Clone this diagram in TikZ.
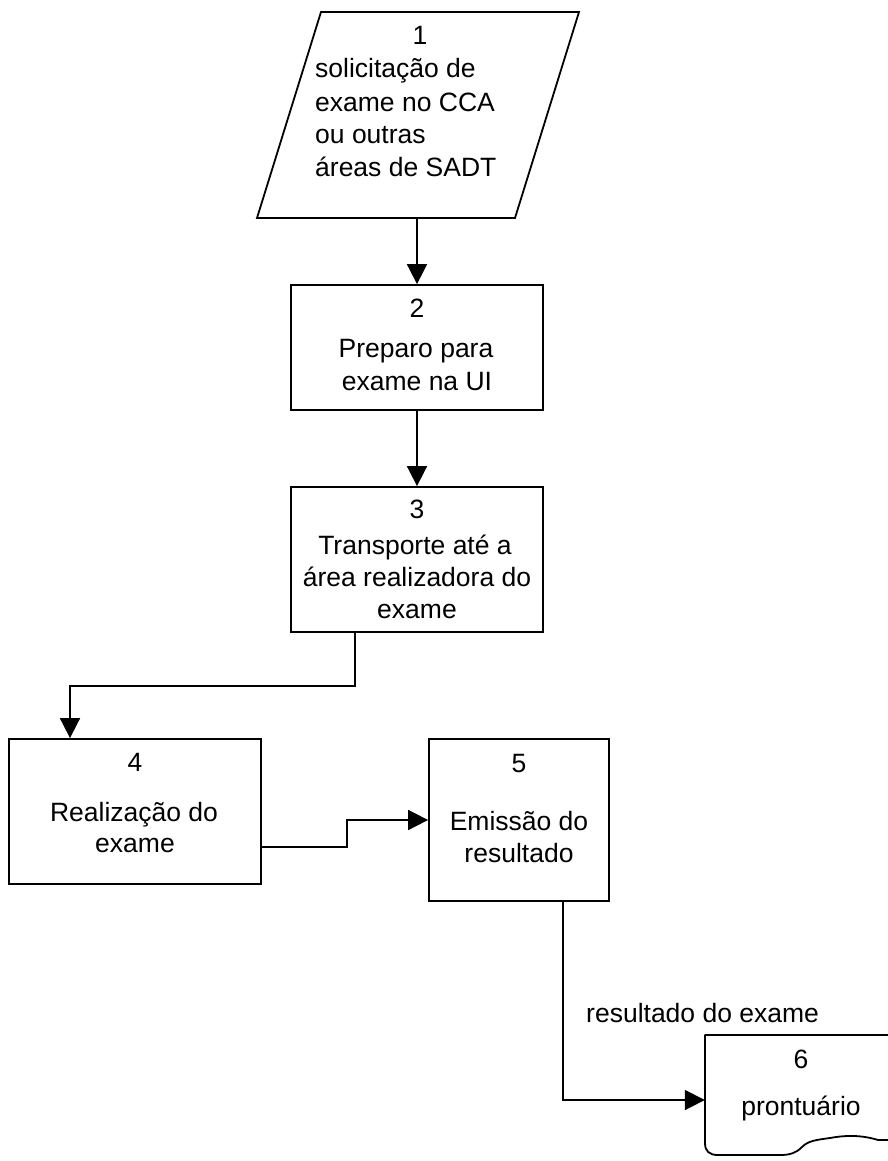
\documentclass[tikz,border=0pt]{standalone}
\usepackage{fontspec}
\setmainfont{Liberation Sans}
\usetikzlibrary{arrows.meta}
\begin{document}
\begin{tikzpicture}[x=1pt,y=-1pt,
  lw/.style={line width=1.8pt},
  box/.style={draw, lw, inner sep=0pt},
  arr/.style={lw, -{Triangle[length=20pt,width=20pt]}},
  txt/.style={font=\fontsize{26.5}{32}\selectfont, inner sep=0pt, anchor=base},
  txtl/.style={txt, anchor=base west}]
\useasboundingbox (0,0) rectangle (887,1161);

% 1: parallelogram
\draw[lw, line join=miter] (321,12) -- (579,12) -- (515,218) -- (257,218) -- cycle;
\coordinate (b1s) at (417,218);
\node[txt] (t1a) at (420,45) {1};
\node[txtl] (t1b) at (315,78) {solicitação de};
\node[txtl] (t1c) at (315,112) {exame no CCA};
\node[txtl] (t1d) at (315,144) {ou outras};
\node[txtl] (t1e) at (315,177) {áreas de SADT};

% 2
\node[box, minimum width=252pt, minimum height=125pt] (b2) at (417,347.5) {};
\node[txt] (t2a) at (417,317) {2};
\node[txt] (t2b) at (416,357) {Preparo para};
\node[txt] (t2c) at (417,390) {exame na UI};

% 3
\node[box, minimum width=252pt, minimum height=145pt] (b3) at (417,559.5) {};
\node[txt] (t3a) at (417,518) {3};
\node[txt] (t3b) at (415,554) {Transporte até a};
\node[txt] (t3c) at (417,586) {área realizadora do};
\node[txt] (t3d) at (417,618) {exame};

% 4
\node[box, minimum width=252pt, minimum height=145pt] (b4) at (135,811.5) {};
\node[txt] (t4a) at (135,771) {4};
\node[txt] (t4b) at (134,821) {Realização do};
\node[txt] (t4c) at (135,852) {exame};

% 5
\node[box, minimum width=180pt, minimum height=162pt] (b5) at (519,820) {};
\node[txt] (t5a) at (519,772) {5};
\node[txt] (t5b) at (519,830) {Emissão do};
\node[txt] (t5c) at (519,862) {resultado};

% 6: document (right edge beyond the page)
\node[inner sep=0pt, minimum width=184pt, minimum height=130pt] (b6) at (797,1100) {};
\draw[lw, line join=round] (705,1035) -- (892,1035) -- (892,1140) -- (878,1140)
  .. controls (862,1135) and (846,1135) .. (830,1138)
  .. controls (815,1140) and (808,1141) .. (802,1147)
  .. controls (796,1153) and (790,1155) .. (780,1155)
  -- (718,1155) .. controls (709,1155) and (705,1151) .. (705,1143) -- cycle;
\node[txt] (t6a) at (801,1068) {6};
\node[txt] (t6b) at (801,1115) {prontuário};

% label
\node[txtl] (lab) at (586,1022) {resultado do exame};

% connectors
\draw[arr] (b1s) -- (b2.north);
\draw[arr] (b2.south) -- (b3.north);
\draw[arr] ([xshift=-62pt]b3.south) -- ++(0,53) -| ([xshift=-65pt]b4.north);
\draw[arr] ([yshift=-35.5pt]b4.east) -- ++(85,0) |- (b5.west);
\draw[arr] ([xshift=44pt]b5.south) |- (b6.west);
\end{tikzpicture}
\end{document}
